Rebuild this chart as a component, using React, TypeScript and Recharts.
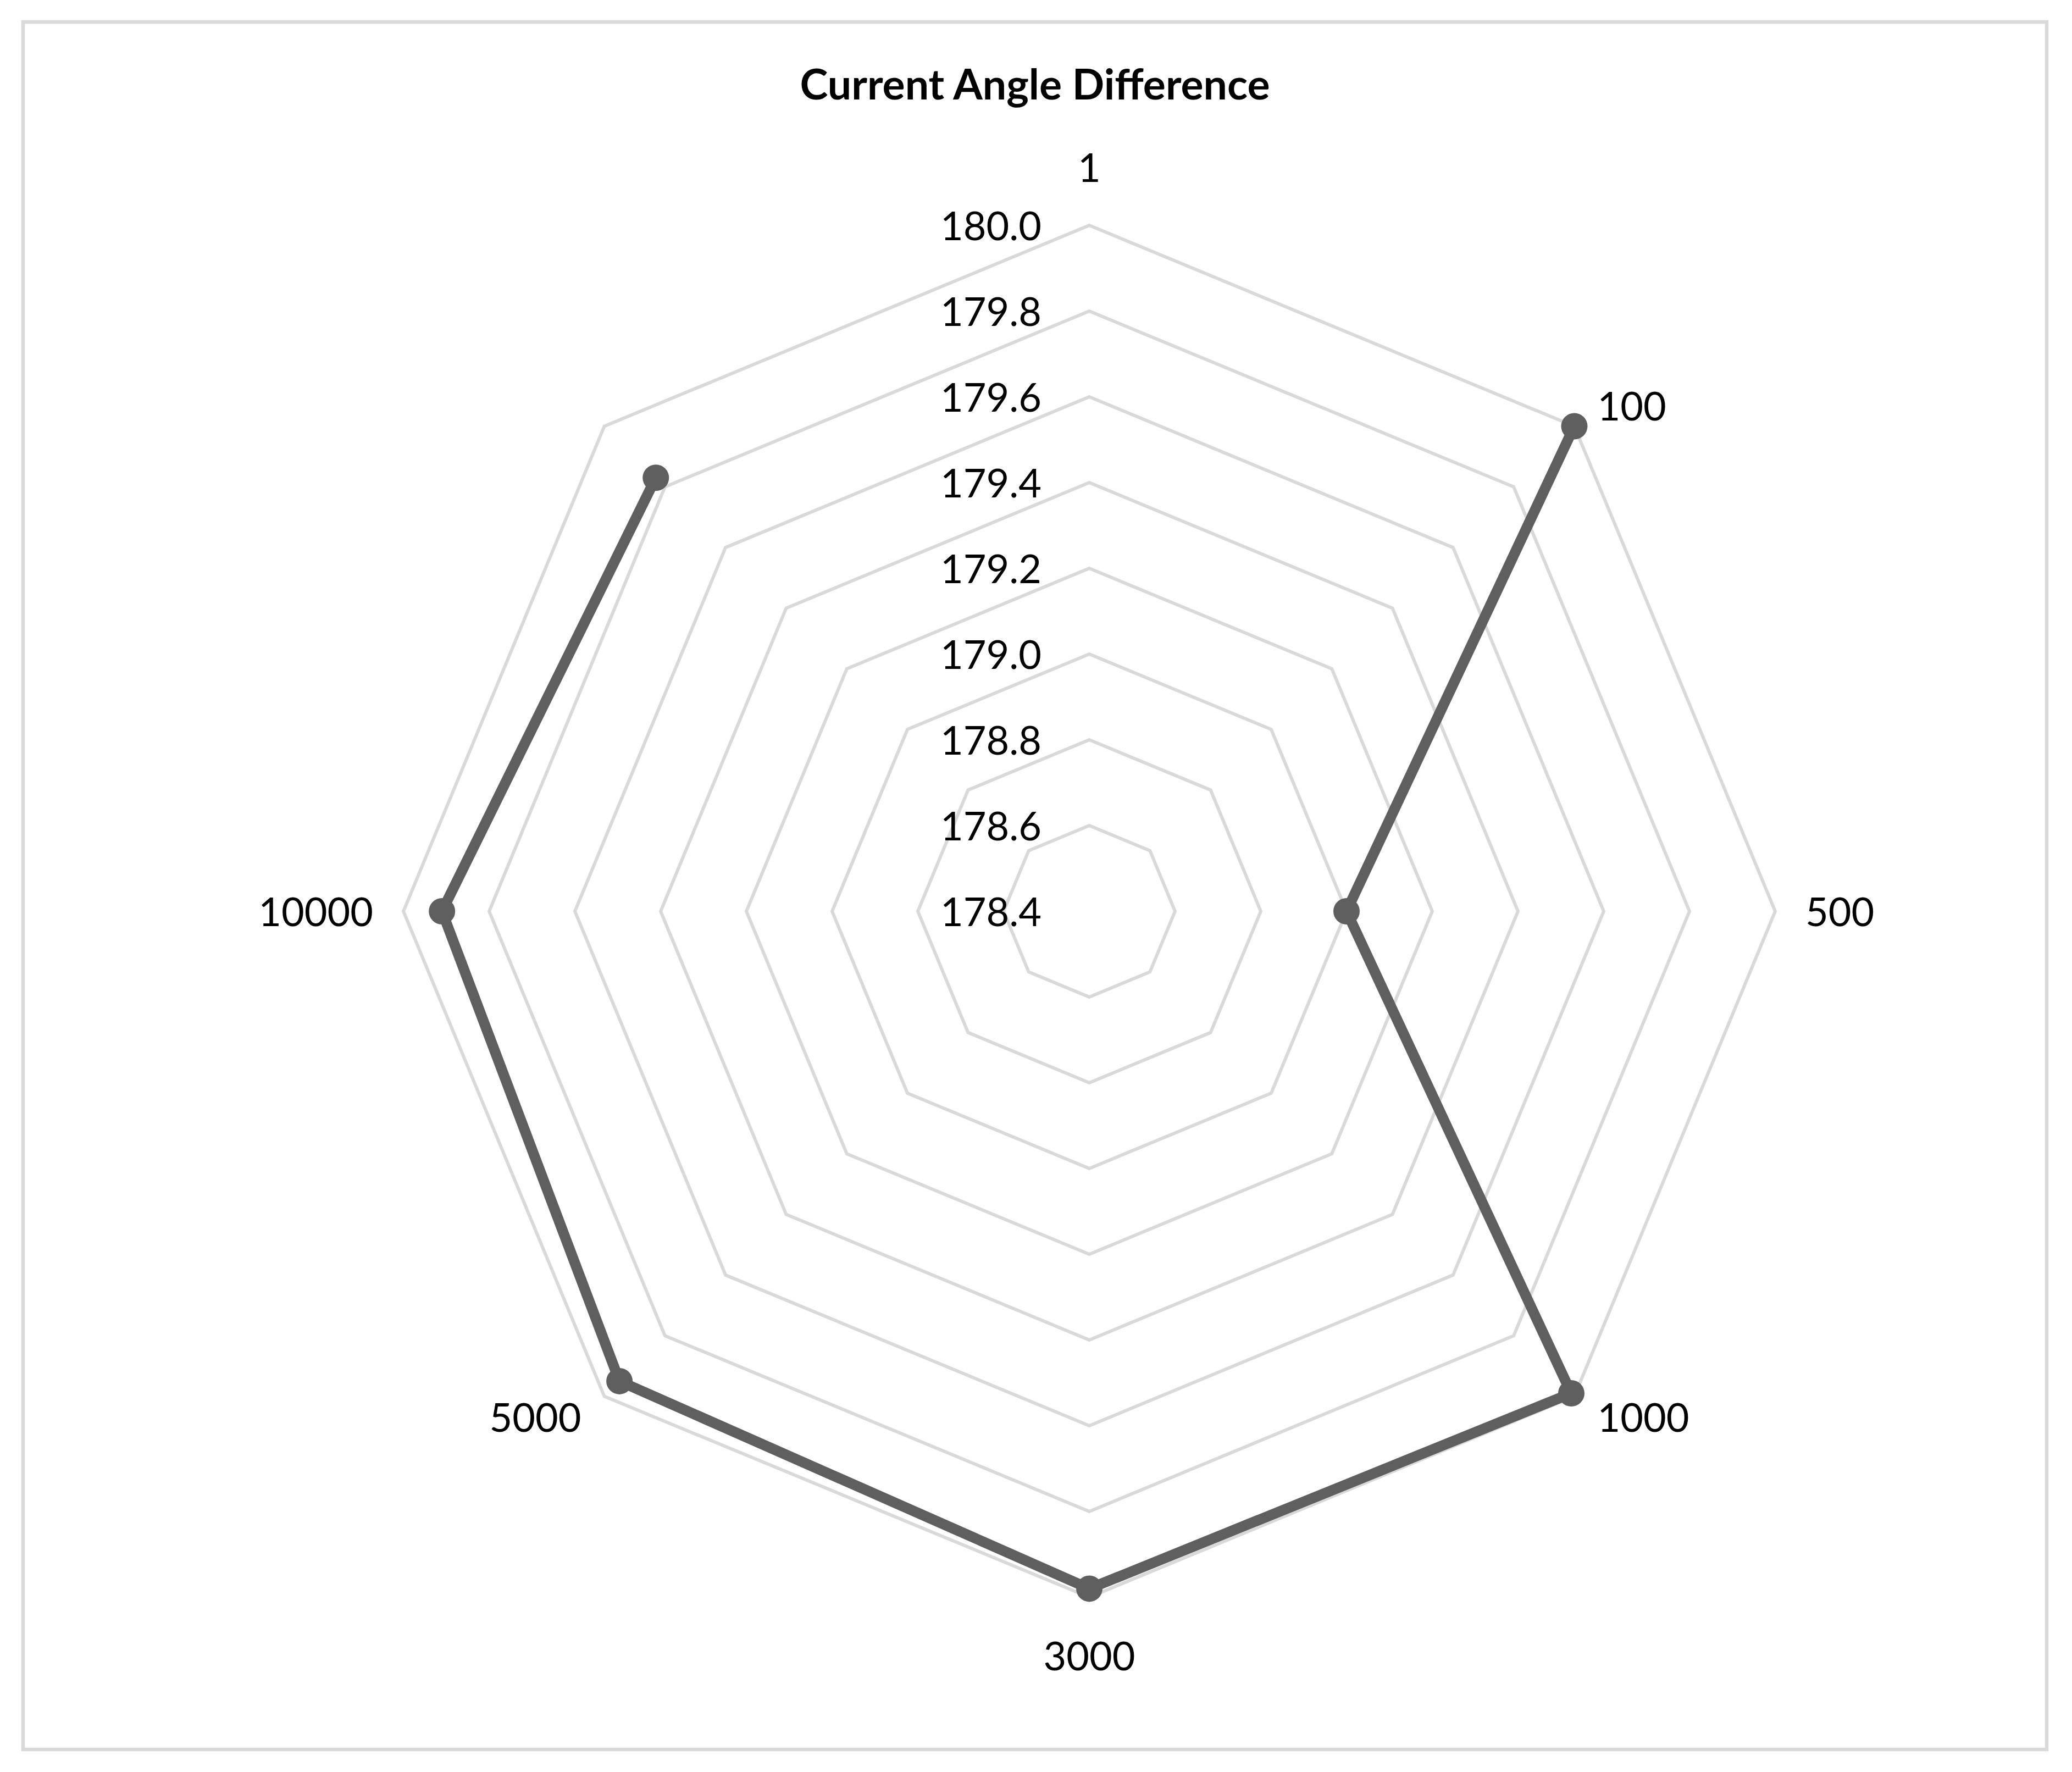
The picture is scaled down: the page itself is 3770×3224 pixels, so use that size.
import React from 'react';
import { RadarChart, Radar, PolarGrid, PolarAngleAxis, PolarRadiusAxis } from 'recharts';

// Categories clockwise from the top spoke; the last spoke has no label in the source.
const categories = ['1', '100', '500', '1000', '3000', '5000', '10000', ''];
// "1" has no value, so the series is an open line with a gap at the top spoke.
const angleDiff: (number | null)[] = [null, 180.0, 179.0, 179.99, 179.98, 179.95, 179.91, 179.83];
const radiusTicks = [178.4, 178.6, 178.8, 179.0, 179.2, 179.4, 179.6, 179.8, 180.0];
const chartTitle = 'Current Angle Difference';

const data = categories.map((c, i) => ({ cat: c, value: angleDiff[i] }));

const W = 3770;
const H = 3224;
const CX = 1982;
const CY = 1658;
const R = 1248;
const FONT = 'Lato, "Open Sans", sans-serif';
const FS = 72;
const HALF_CAP = 27;
const LINE = '#5f5f5f';

const renderAngleTick = (props: any) => {
  const { x, y, payload } = props;
  const label = payload && payload.value != null ? String(payload.value) : '';
  if (!label) return <g />;
  const dx = x - CX;
  const dy = y - CY;
  const len = Math.hypot(dx, dy) || 1;
  const ux = dx / len;
  const uy = dy / len;
  const vx = CX + ux * R;
  const vy = CY + uy * R;
  let tx: number;
  let ty: number;
  let anchor: 'start' | 'middle' | 'end';
  if (Math.abs(ux) < 0.01) {
    tx = vx;
    ty = vy + Math.sign(uy) * 106;
    anchor = 'middle';
  } else if (Math.abs(uy) < 0.01) {
    tx = vx + Math.sign(ux) * 55;
    ty = vy;
    anchor = ux > 0 ? 'start' : 'end';
  } else {
    tx = vx + Math.sign(ux) * 42;
    ty = vy + Math.sign(uy) * 38;
    anchor = ux > 0 ? 'start' : 'end';
  }
  return (
    <text x={tx} y={ty + HALF_CAP} textAnchor={anchor} fill="#000" fontFamily={FONT} fontSize={FS}>
      {label}
    </text>
  );
};

const renderRadiusTick = (props: any) => {
  const { x, y, payload } = props;
  const v = Number(payload.value);
  return (
    <text x={x - 87} y={y + HALF_CAP} textAnchor="end" fill="#000" fontFamily={FONT} fontSize={FS}>
      {v.toFixed(1)}
    </text>
  );
};

// Draws the series from the points Recharts computed, leaving gaps at missing values.
const renderSeries = (props: any) => {
  const pts: any[] = props.points || [];
  const n = pts.length;
  const ok = (p: any) =>
    p && p.value != null && !(Array.isArray(p.value) && p.value[p.value.length - 1] == null) &&
    Number.isFinite(p.x) && Number.isFinite(p.y);
  const validFlags = pts.map(ok);
  let d = '';
  if (n > 0 && validFlags.every(Boolean)) {
    d = pts.map((p, i) => `${i ? 'L' : 'M'}${p.x},${p.y}`).join('') + 'Z';
  } else if (n > 0) {
    const firstNull = validFlags.indexOf(false);
    let started = false;
    for (let k = 1; k <= n; k++) {
      const idx = (firstNull + k) % n;
      if (validFlags[idx]) {
        d += `${started ? 'L' : 'M'}${pts[idx].x},${pts[idx].y}`;
        started = true;
      } else {
        started = false;
      }
    }
  }
  return (
    <g>
      <path d={d} fill="none" stroke={LINE} strokeWidth={19} strokeLinejoin="round" strokeLinecap="round" />
      {pts.map((p, i) =>
        validFlags[i] ? <circle key={i} cx={p.x} cy={p.y} r={24} fill={LINE} stroke="none" /> : null,
      )}
    </g>
  );
};

export default function App() {
  return (
    <div style={{ position: 'absolute', left: 0, top: 0, width: W, height: H, background: '#fff' }}>
      <svg width={W} height={H} style={{ position: 'absolute', left: 0, top: 0 }}>
        <rect x={42} y={40} width={3682} height={3143} fill="#fff" stroke="#d9d9d9" strokeWidth={6.5} />
        <text x={1883} y={181} textAnchor="middle" fontFamily={FONT} fontWeight={700} fontSize={77} fill="#000">
          {chartTitle}
        </text>
      </svg>
      <div style={{ position: 'absolute', left: 0, top: 0 }}>
        <RadarChart
          width={W}
          height={H}
          data={data}
          cx={CX}
          cy={CY}
          outerRadius={R}
          startAngle={90}
          endAngle={-270}
          margin={{ top: 0, right: 0, bottom: 0, left: 0 }}
        >
          <PolarGrid gridType="polygon" radialLines={false} stroke="#d9d9d9" strokeWidth={6} />
          <PolarAngleAxis dataKey="cat" tick={renderAngleTick} axisLine={false} tickLine={false} tickSize={0} />
          <PolarRadiusAxis
            angle={90}
            type="number"
            domain={[178.4, 180]}
            allowDecimals
            allowDataOverflow
            tickCount={9}
            ticks={radiusTicks}
            tick={renderRadiusTick}
            axisLine={false}
            tickLine={false}
          />
          <Radar
            dataKey="value"
            stroke={LINE}
            strokeWidth={19}
            fill="none"
            fillOpacity={0}
            connectNulls={false}
            dot={false}
            shape={renderSeries}
            isAnimationActive={false}
          />
        </RadarChart>
      </div>
    </div>
  );
}
